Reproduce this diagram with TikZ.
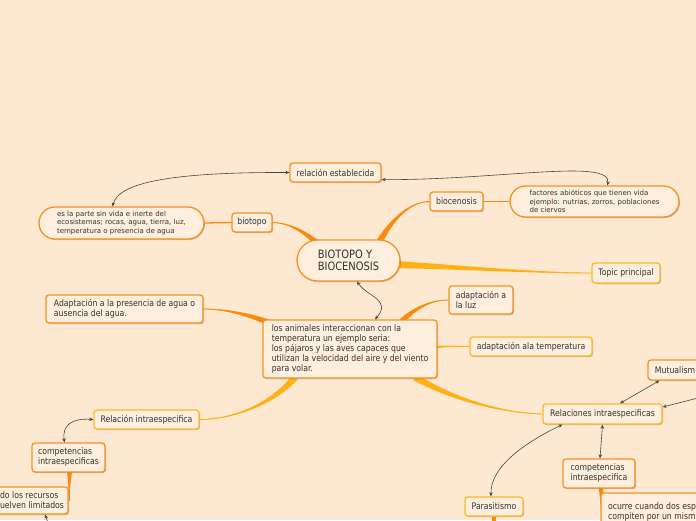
\documentclass[tikz,border=0pt]{standalone}
\usepackage{fontspec}
\setmainfont[FakeStretch=0.86]{DejaVu Sans}
\newfontfamily\smallf{DejaVu Sans}
\usetikzlibrary{shapes.misc,shadows,calc,arrows.meta}
\definecolor{bg}{RGB}{253,232,209}
\definecolor{nfill}{RGB}{254,238,221}
\definecolor{obord}{RGB}{247,145,35}
\definecolor{ybord}{RGB}{255,184,40}
\definecolor{obranch}{RGB}{250,138,15}
\definecolor{ybranch}{RGB}{255,176,20}
\definecolor{txt}{RGB}{51,51,51}
\definecolor{arr}{RGB}{70,70,70}
\pgfdeclarelayer{bgl}
\pgfsetlayers{bgl,main}
\newcommand\mmbranch[6]{%
  \fill[#6] ($(#1)+#5$) .. controls ($#2+0.5*#5$) and ($#3+0.2*#5$) .. (#4)
     .. controls ($#3-0.2*#5$) and ($#2-0.5*#5$) .. ($(#1)-#5$) -- cycle;
  \draw[#6, line width=0.9pt] (#1) .. controls #2 and #3 .. (#4);}
\begin{document}
\begin{tikzpicture}[x=1pt,y=-1pt,
 base/.style={line width=1.3pt, fill=nfill, text=txt, inner sep=0pt, align=left,
   font=\fontsize{9}{10}\selectfont,
   drop shadow={shadow xshift=1pt, shadow yshift=-1pt, opacity=0.22, fill=black}},
 obox/.style={base, draw=obord, rectangle, rounded corners=3pt},
 ybox/.style={base, draw=ybord, rectangle, rounded corners=3pt},
 pill/.style={base, draw=obord, rounded rectangle, font=\smallf\fontsize{7}{8.5}\selectfont},
 link/.style={draw=arr, line width=0.6pt},
 tip2/.style={{Stealth[length=4pt,width=3.5pt]}-{Stealth[length=4pt,width=3.5pt]}},
 tip1/.style={-{Stealth[length=4pt,width=3.5pt]}},
]
\begin{pgfonlayer}{bgl}
\fill[bg] (0,0) rectangle (696,520);
\end{pgfonlayer}
\useasboundingbox (0,0) rectangle (696,520);

\node[obox, minimum width=91pt, minimum height=19pt] (rel) at (335.5,172.5) {relación establecida};
\node[pill, minimum width=165pt, minimum height=32pt] (parte) at (121.5,223) {es la parte sin vida e inerte del\\ecosistemas; rocas, agua, tierra, luz,\\temperatura o presencia de agua};
\node[obox, minimum width=40pt, minimum height=19pt] (biotopo) at (252,222.5) {biotopo};
\node[pill, minimum width=103pt, minimum height=41pt, font=\fontsize{11.5}{12}\selectfont] (central) at (348.5,260.5) {BIOTOPO Y\\BIOCENOSIS};
\node[obox, minimum width=53pt, minimum height=19pt] (biocen) at (456.5,201.5) {biocenosis};
\node[pill, minimum width=169pt, minimum height=31pt] (fact) at (594.5,201.5) {factores abióticos que tienen vida\\ejemplo: nutrias, zorros, poblaciones\\de ciervos};
\node[ybox, minimum width=68pt, minimum height=20pt] (topic) at (626,273) {Topic principal};
\node[obox, minimum width=157pt, minimum height=28pt] (agua) at (124.5,309) {Adaptación a la presencia de agua o\\ausencia del agua.};
\node[obox, minimum width=174pt, minimum height=58pt] (anim) at (350,349) {los animales interaccionan con la\\temperatura un ejemplo seria:\\los pájaros y las aves capaces que\\utilizan la velocidad del aire y del viento\\para volar.};
\node[obox, minimum width=64pt, minimum height=28pt] (luz) at (481,300) {adaptación a\\la luz};
\node[ybox, minimum width=122pt, minimum height=19pt] (temp) at (531,346.5) {adaptación ala temperatura};
\node[ybox, minimum width=105pt, minimum height=19pt] (relintra) at (146.5,419.5) {Relación intraespecifica};
\node[obox, minimum width=73pt, minimum height=29pt] (compL) at (68.5,457.5) {competencias\\intraespecificas};
\node[obox, minimum width=72pt, minimum height=27pt] (recur) at (32,500.5) {do los recursos\\uelven limitados};
\node[obox, minimum width=54pt, minimum height=20pt] (mutual) at (675,370) {Mutualism};
\node[ybox, minimum width=119pt, minimum height=20pt] (relac) at (602.5,414) {Relaciones intraespecificas};
\node[obox, minimum width=72pt, minimum height=29pt] (compR) at (599,473.5) {competencias\\intraespecifica};
\node[ybox, minimum width=58pt, minimum height=19pt] (parasit) at (494,506.5) {Parasitismo};
\node[obox, minimum width=102pt, minimum height=47pt] (ocurre) at (652,516.5) {ocurre cuando dos esp\\compiten por un mism\\\mbox{}};

\coordinate (offR) at (698,398);
\coordinate (offB) at (50,528);
\coordinate (offP) at (494,530);
\coordinate (offO) at (602,530);
\coordinate (s1) at ($(central)+(-30,-16)$);
\coordinate (s2) at ($(central)+(30,-17)$);
\coordinate (s3) at ($(central)+(48,4)$);
\coordinate (s4) at ($(anim)+(-80,-26)$);
\coordinate (s5) at ($(anim)+(50,-26)$);
\coordinate (s6) at ($(anim)+(85,-2)$);
\coordinate (s7) at ($(anim)+(-55,28)$);
\coordinate (s8) at ($(anim)+(65,28)$);
\coordinate (s11) at ($(compL)+(1,14)$);
\coordinate (s12) at ($(compR)+(2,14)$);
\coordinate (e11) at ($(recur.east)+(1,0)$);

\begin{pgfonlayer}{bgl}
\mmbranch{s1}{(305,232)}{(290,223)}{biotopo.east}{(1.9,-2.4)}{obranch}
\mmbranch{s2}{(390,222)}{(408,202)}{biocen.west}{(3,1.6)}{obranch}
\mmbranch{s3}{(470,268)}{(540,273)}{topic.west}{(0,3.5)}{ybranch}
\mmbranch{s4}{(245,313)}{(222,309)}{agua.east}{(1.1,-2.8)}{obranch}
\mmbranch{s5}{(415,307)}{(432,300)}{luz.west}{(2.2,2)}{obranch}
\mmbranch{s6}{(450,346)}{(460,346.5)}{temp.west}{(0,1.2)}{ybranch}
\mmbranch{s7}{(275,402)}{(235,419.5)}{relintra.east}{(2.7,2.2)}{ybranch}
\mmbranch{s8}{(450,398)}{(500,413)}{relac.west}{(-1.8,3)}{ybranch}
\mmbranch{s11}{(69.5,480)}{(69,492)}{e11}{(2.5,0)}{obranch}
\mmbranch{s12}{(601.5,500)}{(602,515)}{offO}{(2.3,0)}{obranch}
\draw[obranch, line width=4pt] (parasit.south) -- (offP);
\draw[obranch, line width=1.3pt] (biotopo.west) -- (parte.east);
\draw[obranch, line width=1.3pt] (biocen.east) -- (fact.west);
\end{pgfonlayer}

\draw[link, tip2] ($(parte.north)+(-9,0)$) .. controls (118,185) and (160,172) .. (rel.west);
\draw[link, tip2] ($(rel.south east)+(0,-3)$) .. controls (500,180) and (612,158) .. ($(fact.north)+(13,0)$);
\draw[link, tip2] ($(central.south)+(8.5,0)$) .. controls (368,297) and (392,300) .. ($(anim.north)+(25,0)$);
\draw[link, tip2] (relintra.west) .. controls (72,418) and (62,425) .. ($(compL.north)+(-4,0)$);
\draw[link, tip2] ($(relac.north)+(17.5,0)$) -- ($(mutual.south west)+(12,0)$);
\draw[link, tip1] (offR) -- ($(relac.east)+(0,-7)$);
\draw[link, tip2] (relac.south) -- ($(compR.north)+(1,0)$);
\draw[link, tip2] ($(relac.south west)+(20,0)$) .. controls (530,440) and (490,465) .. ($(parasit.north)+(-3,0)$);
\draw[link, tip1] (offB) -- ($(recur.south)+(13,0)$);
\end{tikzpicture}
\end{document}
